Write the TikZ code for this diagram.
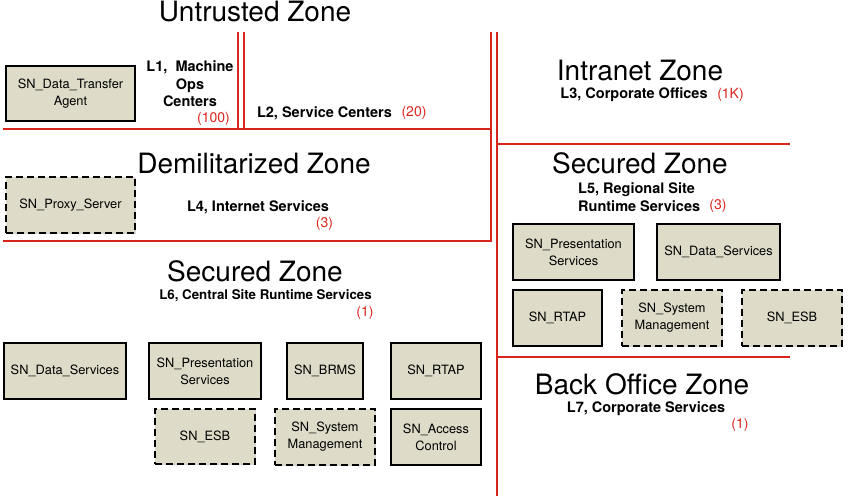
\documentclass[tikz,border=0pt]{standalone}
\usepackage{fontspec}
\setmainfont{TeX Gyre Heros}
\usepackage{tikz}
\usetikzlibrary{shadows}
\definecolor{wallred}{RGB}{218,37,29}
\definecolor{snfill}{RGB}{222,220,201}

\begin{document}
\begin{tikzpicture}[
            x=1pt, y=-1pt,
            % zone borders are plain red strokes, doubled where two zones meet
            wall/.style ={draw=wallred, line width=1.8pt},
            zone/.style ={font=\fontsize{28}{30}\selectfont, inner sep=0pt},
            site/.style ={font=\fontsize{14.5}{17.5}\selectfont\bfseries, align=center, inner sep=0pt},
            count/.style={font=\fontsize{14}{16}\selectfont, text=wallred, inner sep=0pt},
            sn/.style   ={draw, line width=1.6pt, fill=snfill, align=center, inner sep=0pt,
                          font=\fontsize{12.8}{17}\selectfont,
                          drop shadow={shadow xshift=1.3pt, shadow yshift=-1.3pt, opacity=0.35}},
            snopt/.style={sn, dash pattern=on 7pt off 4pt}
        ]
        \useasboundingbox (0,0) rectangle (850,496);

        %% ===== zone borders =====
        \draw[wall] (238,32) -- (238,129);
        \draw[wall] (244,32) -- (244,129);
        \draw[wall] (3,129) -- (491,129);
        \draw[wall] (491,32) -- (491,241) -- (3,241);
        \draw[wall] (497,32) -- (497,496);
        \draw[wall] (497,144) -- (790,144);
        \draw[wall] (497,357) -- (790,357);

        %% ===== Untrusted zone =====
        \node[zone] (untrusted) at (255,12) {Untrusted Zone};
        \node[site] (l1) at (190,84) {L1,~ Machine\\Ops\\Centers};
        \node[count, anchor=east] (l1n) at (230,119) {(100)};
        \node[site] (l2) at (324.5,113) {L2, Service Centers};
        \node[count] (l2n) at (414,113) {(20)};
        \node[sn, minimum width=129pt, minimum height=55pt] (dta) at (70.5,93.5) {SN\_Data\_Transfer\\Agent};

        %% ===== Intranet zone =====
        \node[zone] (intranet) at (640,70) {Intranet Zone};
        \node[site] (l3) at (634,95) {L3, Corporate Offices};
        \node[count] (l3n) at (730.5,95) {(1K)};

        %% ===== Demilitarized zone =====
        \node[zone] (dmz) at (254,163) {Demilitarized Zone};
        \node[site] (l4) at (258,207) {L4, Internet Services};
        \node[count] (l4n) at (324.5,224) {(3)};
        \node[snopt, minimum width=129pt, minimum height=56pt] (proxy) at (70.5,205) {SN\_Proxy\_Server};

        %% ===== Secured zone, regional sites =====
        \node[zone] (secR) at (640,163) {Secured Zone};
        \node[site, align=left, anchor=west] (l5) at (578,197) {L5, Regional Site\\Runtime Services};
        \node[count] (l5n) at (718,206) {(3)};
        \node[sn, minimum width=121pt, minimum height=56pt] (presR) at (573.5,252) {SN\_Presentation\\Services};
        \node[sn, minimum width=123pt, minimum height=56pt] (dataR) at (718.5,252) {SN\_Data\_Services};
        \node[sn, minimum width=89pt, minimum height=56pt] (rtapR) at (557.5,318) {SN\_RTAP};
        \node[snopt, minimum width=100pt, minimum height=56pt] (sysR) at (672,318) {SN\_System\\Management};
        \node[snopt, minimum width=100pt, minimum height=56pt] (esbR) at (792,318) {SN\_ESB};

        %% ===== Secured zone, central site =====
        \node[zone] (secL) at (255,271) {Secured Zone};
        % this label is set a little smaller than the other site labels
        \node[site, font=\fontsize{13.3}{16}\selectfont\bfseries] (l6) at (265.5,296) {L6, Central Site Runtime Services};
        \node[count] (l6n) at (365,313) {(1)};
        \node[sn, minimum width=122pt, minimum height=56pt] (dataL) at (65,371) {SN\_Data\_Services};
        \node[sn, minimum width=112pt, minimum height=56pt] (presL) at (205,371) {SN\_Presentation\\Services};
        \node[sn, minimum width=76pt, minimum height=56pt] (brmsL) at (325,371) {SN\_BRMS};
        \node[sn, minimum width=90pt, minimum height=56pt] (rtapL) at (436,371) {SN\_RTAP};
        \node[snopt, minimum width=100pt, minimum height=55pt] (esbL) at (205,436.5) {SN\_ESB};
        \node[snopt, minimum width=100pt, minimum height=56pt] (sysL) at (325,437) {SN\_System\\Management};
        \node[sn, minimum width=90pt, minimum height=56pt] (accL) at (436,437) {SN\_Access\\Control};

        %% ===== Back office zone =====
        \node[zone] (back) at (642,384) {Back Office Zone};
        \node[site] (l7) at (646,409) {L7, Corporate Services};
        \node[count] (l7n) at (740,425) {(1)};

    \end{tikzpicture}
\end{document}
